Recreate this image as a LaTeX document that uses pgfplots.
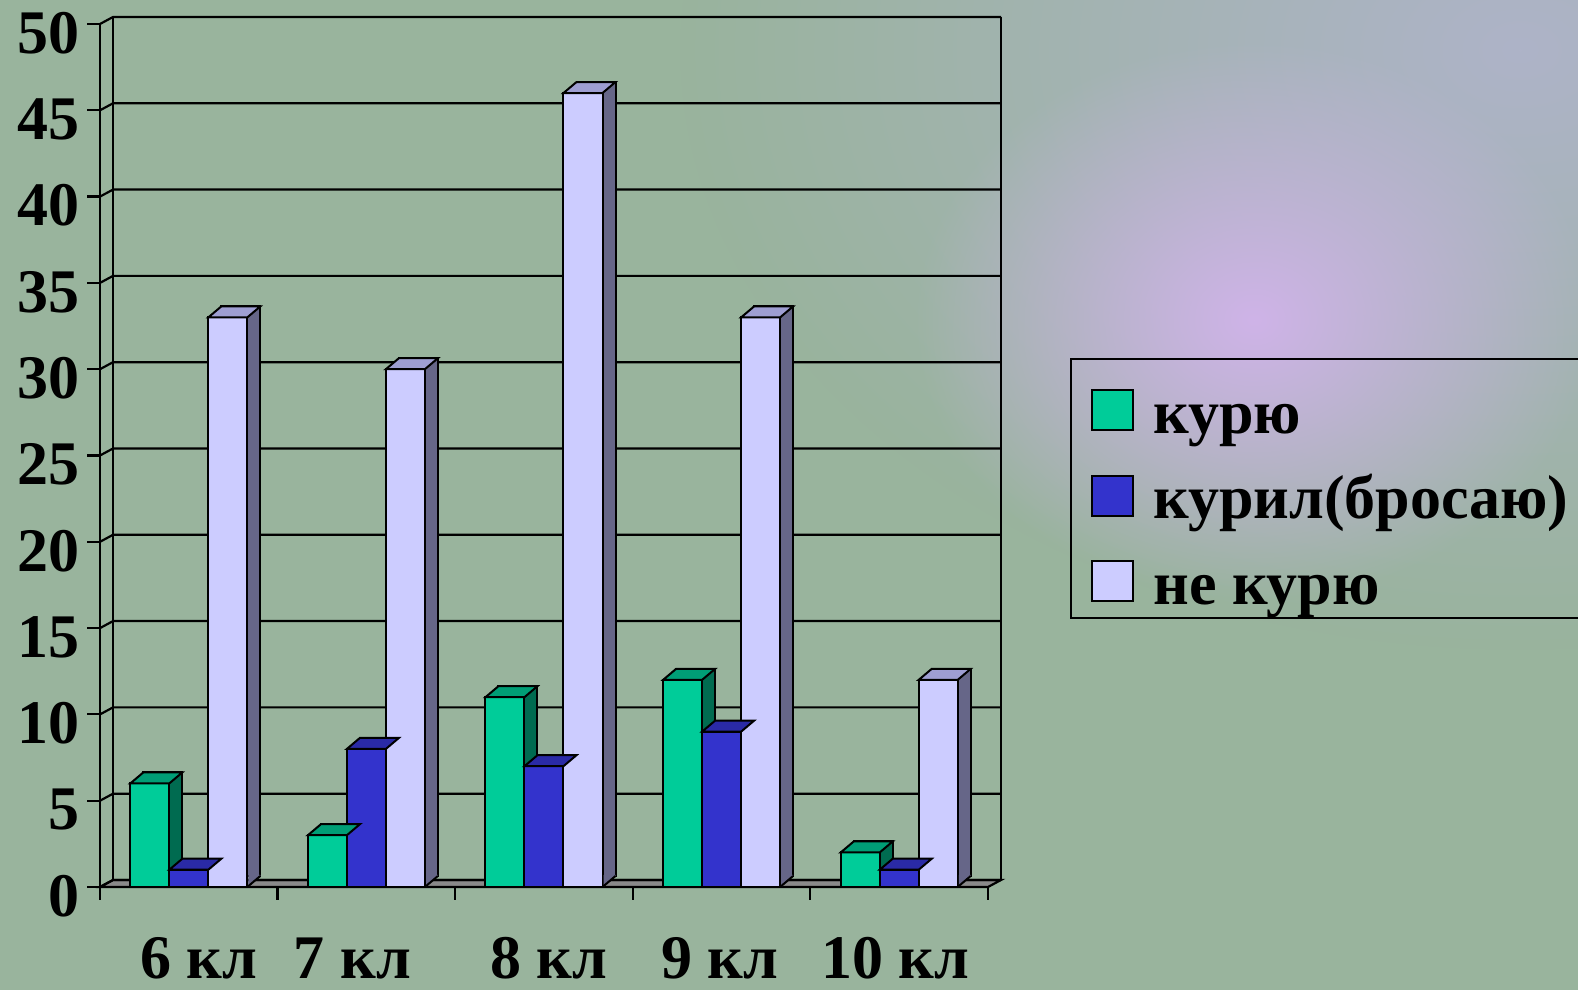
\documentclass[border=0pt]{standalone}
\usepackage{pgfplots}
\usepackage{pgfplotstable}
\pgfplotsset{compat=1.18}
\usepackage{fontspec}
\setmainfont{Liberation Serif}
\usetikzlibrary{fadings}
\definecolor{bgbase}{HTML}{99B49D}
\definecolor{bgblue}{HTML}{AEB3C8}
\definecolor{bgpurple}{HTML}{CFB3E8}
\definecolor{kurF}{HTML}{00CC99}
\definecolor{kurS}{HTML}{006B50}
\definecolor{kurT}{HTML}{009E76}
\definecolor{kuriF}{HTML}{3333CC}
\definecolor{kuriS}{HTML}{1F1F80}
\definecolor{kuriT}{HTML}{2A2AA6}
\definecolor{neF}{HTML}{CCCCFF}
\definecolor{neS}{HTML}{666688}
\definecolor{neT}{HTML}{9E9ED2}
\definecolor{floorc}{HTML}{8A8A8A}
\tikzfading[name=glow, inner color=transparent!0, outer color=transparent!100]
\newcommand\bigf{\fontsize{31pt}{31pt}\selectfont\bfseries}

\pgfdeclareplotmark{topA}{\pgfpathmoveto{\pgfpoint{-29.25pt}{0pt}}\pgfpathlineto{\pgfpoint{-9.75pt}{0pt}}\pgfpathlineto{\pgfpoint{-3.25pt}{5.5pt}}\pgfpathlineto{\pgfpoint{-22.75pt}{5.5pt}}\pgfpathclose\pgfusepathqfillstroke}
\pgfdeclareplotmark{topB}{\pgfpathmoveto{\pgfpoint{-9.75pt}{0pt}}\pgfpathlineto{\pgfpoint{9.75pt}{0pt}}\pgfpathlineto{\pgfpoint{16.25pt}{5.5pt}}\pgfpathlineto{\pgfpoint{-3.25pt}{5.5pt}}\pgfpathclose\pgfusepathqfillstroke}
\pgfdeclareplotmark{topC}{\pgfpathmoveto{\pgfpoint{9.75pt}{0pt}}\pgfpathlineto{\pgfpoint{29.25pt}{0pt}}\pgfpathlineto{\pgfpoint{35.75pt}{5.5pt}}\pgfpathlineto{\pgfpoint{16.25pt}{5.5pt}}\pgfpathclose\pgfusepathqfillstroke}
% bottom of the side face of the last series
\pgfdeclareplotmark{botC}{%
  \pgfpathmoveto{\pgfpoint{29.8pt}{0pt}}\pgfpathlineto{\pgfpoint{35.75pt}{5.5pt}}\pgfpathlineto{\pgfpoint{35.75pt}{6.1pt}}\pgfpathlineto{\pgfpoint{29.8pt}{6.1pt}}\pgfpathclose\pgfusepathqfill
  \pgfpathmoveto{\pgfpoint{29.25pt}{0pt}}\pgfpathlineto{\pgfpoint{35.75pt}{5.5pt}}\pgfusepathqstroke}

\pgfplotstableread{
x kur kuril ne base
0 6 1 33 0
1 3 8 30 0
2 11 7 46 0
3 12 9 33 0
4 2 1 12 0
}\data

\begin{document}
\begin{tikzpicture}
\path[use as bounding box] (0,0) rectangle (789pt,495pt);
\fill[bgbase] (0,0) rectangle (789pt,495pt);
\fill[bgblue, path fading=glow] (760pt,470pt) ellipse (420pt and 300pt);
\fill[bgpurple, path fading=glow] (627pt,335pt) ellipse (170pt and 140pt);
\begin{axis}[
  at={(50pt,51.5pt)}, anchor=south west, scale only axis,
  width=444pt, height=431.5pt,
  xmin=-0.5, xmax=4.5, ymin=0, ymax=50, clip=false,
  axis x line=bottom, axis y line=left,
  axis line style={-, line width=1.1pt, black},
  tick align=outside, major tick length=6.25pt,
  tick style={line width=1.1pt, black},
  xtick={-0.5,0.5,1.5,2.5,3.5,4.5},
  xticklabels={\hspace*{10pt}6 кл, 7 кл\hspace*{14pt}, \hspace*{5pt}8 кл, 9 кл\hspace*{2pt}, 10 кл\hspace*{4pt}, {}},
  ytick={0,5,...,50},
  /pgf/number format/assume math mode=true,
  yticklabel style={font=\bigf, anchor=east, inner sep=0pt, xshift=-4pt, yshift=-4.5pt},
  xticklabel style={font=\bigf, anchor=base, inner sep=0pt, xshift=44.4pt, yshift=-39.5pt},
  legend cell align=left,
  legend style={draw=none, fill=none, at={(1.11599,0.5816)}, anchor=north west,
    inner sep=0pt, row sep=10.75pt, column sep=9.5pt, font=\bigf,
    nodes={inner sep=0pt, text height=24pt, text depth=8pt}},
]
\fill[floorc, draw=black, line width=1.1pt] (axis cs:-0.5,0) -- (axis cs:4.5,0) -- ++(6.5pt,3.5pt) -- ++(-444pt,0pt) -- cycle;
\pgfplotsinvokeforeach{0,5,...,50}{\draw[line width=1.1pt] (axis cs:-0.5,#1) -- ++(6.5pt,3.5pt) -- ++(444pt,0pt);}
\draw[line width=1.1pt] (axis cs:-0.5,0) ++(6.5pt,3.5pt) -- ++(0pt,431.5pt);
\draw[line width=1.1pt] (axis cs:4.5,0) ++(6.5pt,3.5pt) -- ++(0pt,431.5pt);

% курю
\addplot[ybar, bar width=19.5pt, bar shift=-13pt, yshift=5.5pt, fill=kurS, draw=black, line width=1pt, forget plot] table[x=x,y=kur] {\data};
\addplot[ybar, bar width=19.5pt, bar shift=-19.5pt, fill=kurF, draw=black, line width=1pt,
  legend image code/.code={\draw[fill=kurF, draw=black, line width=1pt] (0pt,-6.5pt) rectangle (20.5pt,13.5pt);}] table[x=x,y=kur] {\data};
\addlegendentry{курю}
\addplot[only marks, mark=topA, mark options={fill=kurT, draw=black, line width=1pt}, forget plot] table[x=x,y=kur] {\data};
% курил
\addplot[ybar, bar width=19.5pt, bar shift=6.5pt, yshift=5.5pt, fill=kuriS, draw=black, line width=1pt, forget plot] table[x=x,y=kuril] {\data};
\addplot[ybar, bar width=19.5pt, bar shift=0pt, fill=kuriF, draw=black, line width=1pt,
  legend image code/.code={\draw[fill=kuriF, draw=black, line width=1pt] (0pt,-6.5pt) rectangle (20.5pt,13.5pt);}] table[x=x,y=kuril] {\data};
\addlegendentry{курил(бросаю)}
\addplot[only marks, mark=topB, mark options={fill=kuriT, draw=black, line width=1pt}, forget plot] table[x=x,y=kuril] {\data};
% не курю
\addplot[ybar, bar width=19.5pt, bar shift=26pt, yshift=5.5pt, fill=neS, draw=black, line width=1pt, forget plot] table[x=x,y=ne] {\data};
\addplot[only marks, mark=botC, mark options={fill=neS, draw=black, line width=1pt}, forget plot] table[x=x,y=base] {\data};
\addplot[ybar, bar width=19.5pt, bar shift=19.5pt, fill=neF, draw=black, line width=1pt,
  legend image code/.code={\draw[fill=neF, draw=black, line width=1pt] (0pt,-6.5pt) rectangle (20.5pt,13.5pt);}] table[x=x,y=ne] {\data};
\addlegendentry{не курю}
\addplot[only marks, mark=topC, mark options={fill=neT, draw=black, line width=1pt}, forget plot] table[x=x,y=ne] {\data};
\end{axis}
\draw[line width=1.1pt] (535.5pt,186pt) rectangle (800pt,315.5pt);
\end{tikzpicture}
\end{document}
